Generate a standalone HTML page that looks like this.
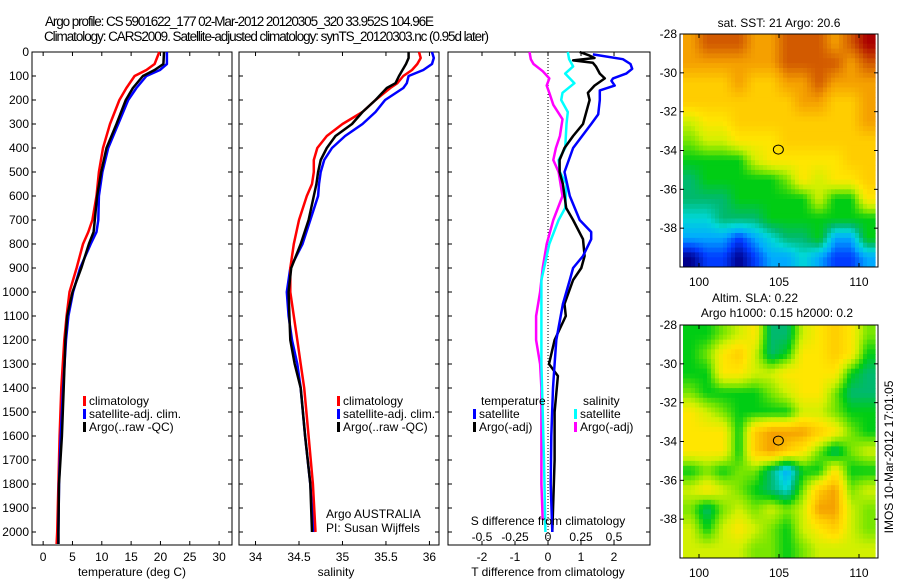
<!DOCTYPE html>
<html><head><meta charset="utf-8"><style>
body{margin:0;background:#fff;width:900px;height:580px;overflow:hidden}
svg{display:block;font-family:"Liberation Sans",sans-serif}
</style></head><body>
<svg id="fig" width="900" height="580" viewBox="0 0 900 580">
<text x="45" y="26" font-size="13.5" textLength="389">Argo profile: CS 5901622_177 02-Mar-2012 20120305_320 33.952S 104.96E</text>
<text x="44" y="41" font-size="13.5" textLength="445">Climatology: CARS2009. Satellite-adjusted climatology: synTS_20120303.nc (0.95d later)</text>
<text x="779" y="27" font-size="12" text-anchor="middle">sat. SST: 21 Argo: 20.6</text>
<text x="755" y="302" font-size="12" text-anchor="middle">Altim. SLA: 0.22</text>
<text x="777" y="317" font-size="12" text-anchor="middle">Argo h1000: 0.15 h2000: 0.2</text>
<text transform="translate(893,457) rotate(-90)" font-size="12" text-anchor="middle">IMOS 10-Mar-2012 17:01:05</text>
</svg>
<script>
// ---------- data ----------
const depthTicks=[0,100,200,300,400,500,600,700,800,900,1000,1100,1200,1300,1400,1500,1600,1700,1800,1900,2000];
const tempTicks=[0,5,10,15,20,25,30];
const salTicks=[34,34.5,35,35.5,36];
const salTickLabels=["34","34.5","35","35.5","36"];
const tdiffTicks=[-2,-1,0,1,2];
const sdiffTicks=[-0.5,-0.25,0,0.25,0.5];
const sdiffTickLabels=["-0.5","-0.25","0","0.25","0.5"];

const tDepth=[0,50,75,100,150,200,300,400,500,600,700,750,800,900,1000,1100,1200,1400,1600,1800,2000,2050];
const tClim=[19.8,19,17.6,15.6,14.2,13,11.4,10.2,9.5,9.1,8.4,7.7,6.8,5.7,4.5,4,3.6,3.1,2.8,2.6,2.4,2.3];
const tSat=[21.1,21.1,19.9,17.6,15.9,14.5,12.8,11.1,10.1,9.5,9.4,9.1,8.1,6.3,5.1,4.3,3.9,3.4,3,2.7,2.6,2.6];
const tArgo=[20.6,20.5,19,17,15.3,14.1,12.5,10.8,9.9,9.2,8.8,8.6,7.8,6.5,5,4.1,3.8,3.5,3.2,2.7,2.6,2.6];

const sDepth=[0,25,50,75,100,130,150,200,250,300,350,400,450,500,550,600,700,800,900,1000,1100,1200,1300,1400,1600,1800,2000];
const sClim=[35.88,35.9,35.86,35.8,35.7,35.63,35.55,35.38,35.23,35,34.82,34.71,34.67,34.67,34.65,34.59,34.5,34.44,34.4,34.4,34.44,34.48,34.52,34.56,34.61,34.66,34.69];
const sSat=[36.03,36.05,36.03,35.93,35.76,35.74,35.7,35.49,35.38,35.23,35.03,34.88,34.79,34.75,34.73,34.72,34.63,34.54,34.4,34.36,34.38,34.42,34.48,34.52,34.57,34.63,34.67];
const sArgo=[35.76,35.76,35.73,35.69,35.65,35.61,35.51,35.38,35.23,35.11,34.92,34.82,34.75,34.72,34.7,34.67,34.61,34.52,34.41,34.38,34.39,34.4,34.45,34.52,34.57,34.63,34.65];

const dtSatDepth=[10,30,50,70,90,110,120,140,160,200,260,300,400,500,600,700,750,780,850,900,950,1050,1200,1300,1400,1600,1800,2000];
const dtSat=[1.36,2.27,2.5,2.55,2.37,1.97,1.92,2.02,1.57,1.57,1.52,1.31,0.76,0.5,0.66,0.96,1.31,1.31,1.06,0.76,0.66,0.45,0.25,0.2,0.15,0.1,0.08,0.13];
const dtArgoDepth=[0,15,25,35,45,60,90,110,140,170,200,250,300,350,400,450,500,550,650,700,780,850,900,950,1050,1100,1200,1300,1350,1500,1700,2000];
const dtArgo=[0.96,1.26,1.41,0.76,1.36,1.45,1.57,1.72,1.41,1.21,1.26,1.16,1.06,0.76,0.5,0.35,0.35,0.45,0.55,0.76,1.06,1.11,1.01,0.76,0.5,0.54,0.2,0.03,0.3,0.2,0.2,0.13];
const dsSatDepth=[0,30,60,90,130,170,200,250,300,400,450,500,550,650,700,800,850,950,1100,1300,1500,1700,2000];
const dsSat=[0.15,0.16,0.19,0.13,0.2,0.11,0.1,0.15,0.14,0.13,0.08,0.09,0.14,0.13,0.08,0.01,-0.01,-0.05,-0.05,-0.05,-0.04,-0.03,-0.02];
const dsArgoDepth=[0,30,50,80,110,140,170,220,280,350,400,450,500,600,700,800,900,1000,1100,1200,1300,1400,1600,1800,1950];
const dsArgo=[-0.14,-0.13,-0.11,-0.04,0.01,-0.01,0.01,0.04,0.11,0.09,0.06,0.04,0.08,0.11,0.04,-0.01,-0.04,-0.06,-0.09,-0.09,-0.06,-0.05,-0.05,-0.05,-0.04];

const lonTicks=[100,105,110];
const latTicks=[-28,-30,-32,-34,-36,-38];
const sstGrid=[
[10,11,11,11,10,10,11,11,11,10,11,12],
[10,10,10,10,10,10,11,11,11,11,10,11],
[9,9,9,10,9,9,10,10,11,10,10,10],
[9,9,9,9,9,9,9,10,10,9,9,10],
[7,8,8,9,9,9,9,9,9,9,9,10],
[6,7,7,8,8,8,9,9,9,9,9,9],
[5,5,5,5,7,8,8,8,8,8,9,9],
[4,5,5,5,5,5,6,8,7,8,8,9],
[4,4,4,5,5,5,5,5,7,5,5,8],
[3,3,4,4,4,5,5,5,5,5,5,5],
[2,2,2,1,2,3,4,4,5,2,2,5],
[0,1,1,0,1,2,2,3,2,1,1,2]];
const slaGrid=[
[5,5,6,7,8,4,4,7,8,9,8,6],
[5,6,8,9,7,4,5,8,8,9,8,5],
[5,5,8,8,7,7,8,8,8,8,5,4],
[6,5,5,5,5,6,7,8,8,6,4,4],
[8,7,6,5,5,5,5,7,7,6,5,5],
[8,8,8,5,9,10,10,10,9,8,6,5],
[8,8,8,5,9,10,9,8,6,4,6,7],
[5,6,5,6,6,4,2,5,5,8,5,5],
[7,8,7,6,5,4,3,6,9,10,6,7],
[6,4,6,7,6,7,6,7,10,10,7,6],
[7,5,7,8,7,6,5,7,8,9,7,6],
[7,7,7,7,6,6,5,6,7,7,7,7]];
const argoLon=104.96, argoLat=-33.952;

// ---------- helpers ----------
const svg=document.getElementById('fig');
const NS='http://www.w3.org/2000/svg';
function mk(tag,attrs,parent){const e=document.createElementNS(NS,tag);for(const k in attrs)e.setAttribute(k,attrs[k]);(parent||svg).appendChild(e);return e;}
function txt(x,y,s,size,anchor,parent){const t=mk('text',{x:x,y:y,'font-size':size,'text-anchor':anchor||'middle'},parent);t.textContent=s;return t;}
const TOP=52,BOT=545;
const yD=d=>52+d*0.24;

function panel(name,x0,x1,xmin,xmax){
  const g=mk('g',{});
  
  
  const sx=v=>x0+(v-xmin)/(xmax-xmin)*(x1-x0);
  return {g,sx};
}
function frame(g,x0,x1,ticksX,sx){
  const r=mk('rect',{x:x0,y:TOP,width:x1-x0,height:BOT-TOP,fill:'none',stroke:'#000','stroke-width':1},g);
  
  
  ticksX.forEach(v=>{const x=sx(v);mk('line',{x1:x,x2:x,y1:BOT,y2:BOT-4,stroke:'#000'},g);mk('line',{x1:x,x2:x,y1:TOP,y2:TOP+4,stroke:'#000'},g);});
  depthTicks.forEach(d=>{const y=yD(d);mk('line',{x1:x0,x2:x0+4,y1:y,y2:y,stroke:'#000'},g);mk('line',{x1:x1,x2:x1-4,y1:y,y2:y,stroke:'#000'},g);});
}
function series(g,name,depths,vals,sx,color,w){
  const pts=depths.map((d,i)=>sx(vals[i]).toFixed(1)+','+yD(d).toFixed(1)).join(' ');
  const p=mk('polyline',{points:pts,fill:'none',stroke:color,'stroke-width':w||2.5,'stroke-linejoin':'round'},g);
  
  
}
function legend(g,x,y,color,label){
  const lg=mk('g',{},g);
  
  
  mk('rect',{x:x,y:y-9,width:3,height:10,fill:color},lg);
  txt(x+6,y,label,12,'start',lg);
}
const L1=405,L2=418,L3=431;

// ---------- panel 1: temperature ----------
{
 const P=panel('temperature-panel',32,232,-1.9,32.2);const g=P.g,sx=P.sx;
 frame(g,32,232,tempTicks,sx);
 depthTicks.forEach(d=>{txt(29,yD(d)+4,String(d),12,'end',g);});
 tempTicks.forEach(v=>txt(sx(v),561,String(v),12,'middle',g));
 const xl=txt(132,576,'temperature (deg C)',12,'middle',g);
 
 
 series(g,'temp-climatology-line',tDepth,tClim,sx,'#f00');
 series(g,'temp-satellite-line',tDepth,tSat,sx,'#00f');
 series(g,'temp-argo-line',tDepth,tArgo,sx,'#000');
 legend(g,83,L1,'#f00','climatology');
 legend(g,83,L2,'#00f','satellite-adj. clim.');
 legend(g,83,L3,'#000','Argo(..raw -QC)');
}
// ---------- panel 2: salinity ----------
{
 const P=panel('salinity-panel',239,439,33.81,36.11);const g=P.g,sx=P.sx;
 frame(g,239,439,salTicks,sx);
 salTicks.forEach((v,i)=>txt(sx(v),561,salTickLabels[i],12,'middle',g));
 const xl=txt(336,576,'salinity',12,'middle',g);
 
 
 series(g,'sal-satellite-line',sDepth,sSat,sx,'#00f');
 series(g,'sal-climatology-line',sDepth,sClim,sx,'#f00');
 series(g,'sal-argo-line',sDepth,sArgo,sx,'#000');
 legend(g,337,L1,'#f00','climatology');
 legend(g,337,L2,'#00f','satellite-adj. clim.');
 legend(g,337,L3,'#000','Argo(..raw -QC)');
 txt(326,518,'Argo AUSTRALIA',12,'start',g);
 txt(326,532,'PI: Susan Wijffels',12,'start',g);
}
// ---------- panel 3: differences ----------
{
 const P=panel('difference-panel',448,650,-3.03,3.09);const g=P.g,sx=P.sx;
 const sxS=v=>sx(v*4);
 frame(g,448,650,tdiffTicks,sx);
 mk('line',{x1:sx(0),x2:sx(0),y1:TOP,y2:BOT,stroke:'#000','stroke-dasharray':'1,2'},g);
 tdiffTicks.forEach(v=>txt(sx(v),561,String(v),12,'middle',g));
 sdiffTicks.forEach((v,i)=>txt(sxS(v),541,sdiffTickLabels[i],12,'middle',g));
 const xl=txt(548,576,'T difference from climatology',12,'middle',g);
 
 
 series(g,'sal-argo-diff-line',dsArgoDepth,dsArgo,sxS,'#f0f');
 series(g,'sal-sat-diff-line',dsSatDepth,dsSat,sxS,'#0ff');
 series(g,'temp-argo-diff-line',dtArgoDepth,dtArgo,sx,'#000');
 series(g,'temp-sat-diff-line',dtSatDepth,dtSat,sx,'#00f');
 const xs=txt(548,525,'S difference from climatology',12,'middle',g);
 
 
 txt(481,L1,'temperature',12,'start',g);
 txt(583,L1,'salinity',12,'start',g);
 legend(g,473,L2,'#00f','satellite');
 legend(g,473,L3,'#000','Argo(-adj)');
 legend(g,574,L2,'#0ff','satellite');
 legend(g,574,L3,'#f0f','Argo(-adj)');
}
// ---------- maps ----------
const cmap=[[0,0,140],[0,60,255],[0,170,255],[0,215,215],[0,185,110],[0,205,20],[120,230,0],[210,240,0],[255,230,0],[255,205,0],[245,160,0],[210,90,0],[170,0,0]];
function colorAt(v){
  v=Math.max(0,Math.min(12,v));const i=Math.min(11,Math.floor(v)),f=v-i;
  const a=cmap[i],b=cmap[i+1];
  return 'rgb('+a.map((c,k)=>Math.round(c+(b[k]-c)*f)).join(',')+')';
}
function sample(grid,r,c){
  r=Math.max(0,Math.min(11,r));c=Math.max(0,Math.min(11,c));
  const r0=Math.floor(r),c0=Math.floor(c),r1=Math.min(11,r0+1),c1=Math.min(11,c0+1),fr=r-r0,fc=c-c0;
  return grid[r0][c0]*(1-fr)*(1-fc)+grid[r0][c1]*(1-fr)*fc+grid[r1][c0]*fr*(1-fc)+grid[r1][c1]*fr*fc;
}
function map(name,grid,y0,y1){
  const g=mk('g',{});
  
  
  const x0=680,x1=878;
  const sx=lon=>699+(lon-100)*16;
  const ppd=(y1-y0)/12;
  const latToY=lat=>y0+(-28-lat)*ppd;
  const clip=mk('clipPath',{id:name+'-clip'},g);
  mk('rect',{x:x0,y:y0,width:x1-x0,height:y1-y0},clip);
  const cg=mk('g',{'clip-path':'url(#'+name+'-clip)'},g);
  const N=4;
  for(let r=0;r<12*N;r++)for(let c=0;c<12*N;c++){
    const v=sample(grid,(r+0.5)/N-0.5,(c+0.5)/N-0.5);
    const xa=sx(99+c/N),xb=sx(99+(c+1)/N),ya=latToY(-28-r/N),yb=latToY(-28-(r+1)/N);
    const cell=mk('rect',{x:xa.toFixed(1),y:ya.toFixed(1),width:(xb-xa+0.6).toFixed(1),height:(yb-ya+0.6).toFixed(1),fill:colorAt(v)},cg);
    
    
  }
  mk('rect',{x:x0,y:y0,width:x1-x0,height:y1-y0,fill:'none',stroke:'#000'},g);
  lonTicks.forEach(l=>{const x=sx(l);mk('line',{x1:x,x2:x,y1:y1,y2:y1-4,stroke:'#000'},g);mk('line',{x1:x,x2:x,y1:y0,y2:y0+4,stroke:'#000'},g);txt(x,y1+19,String(l),12,'middle',g);});
  latTicks.forEach(l=>{const y=latToY(l);mk('line',{x1:x0,x2:x0+4,y1:y,y2:y,stroke:'#000'},g);mk('line',{x1:x1,x2:x1-4,y1:y,y2:y,stroke:'#000'},g);txt(x0-3,y+4,String(l),12,'end',g);});
  const c=mk('ellipse',{cx:sx(argoLon),cy:latToY(argoLat),rx:5,ry:4.5,fill:'none',stroke:'#000','stroke-width':1},g);
  
  
}
map('sst-map',sstGrid,34,267);
map('sla-map',slaGrid,325,558);
</script>
</body></html>
